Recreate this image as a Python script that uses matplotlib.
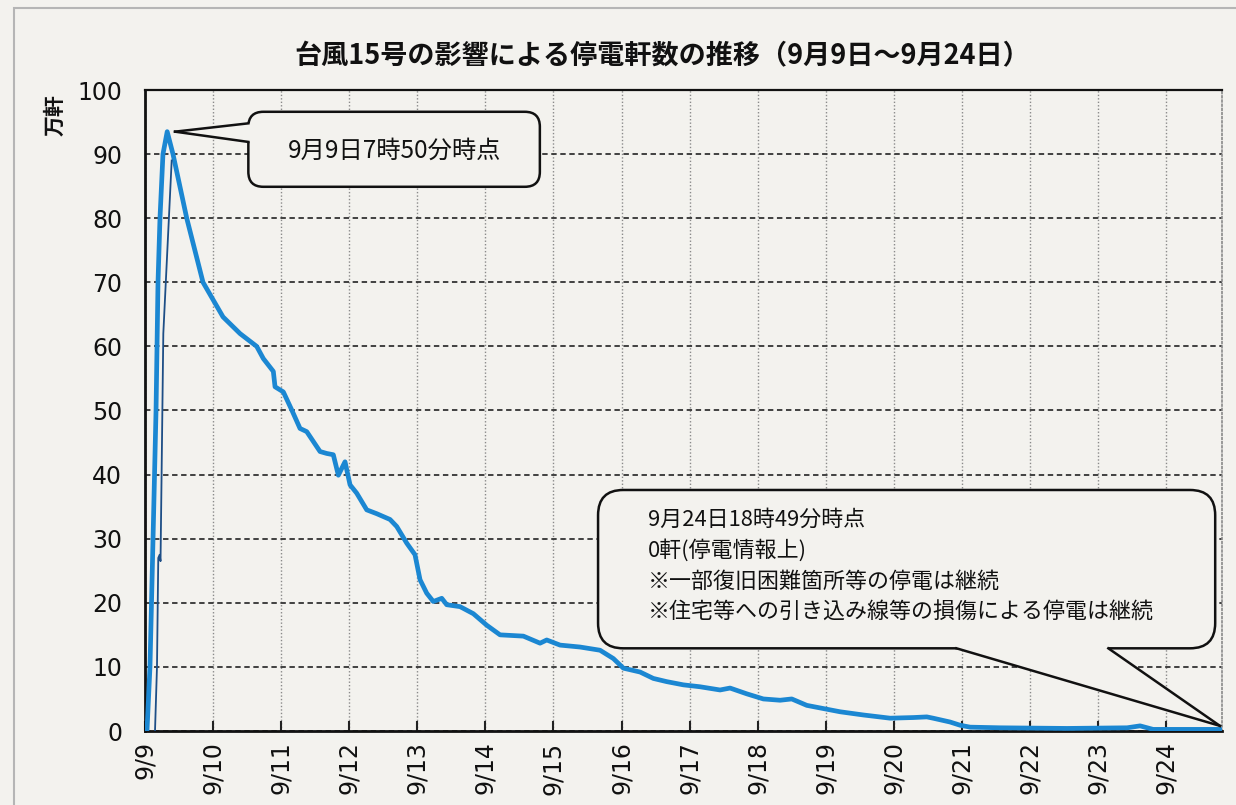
import matplotlib
matplotlib.use("Agg")
import matplotlib.pyplot as plt
from matplotlib.patches import FancyBboxPatch, Polygon, Rectangle
from matplotlib.lines import Line2D

plt.rcParams['font.family'] = ['Noto Sans CJK JP', 'DejaVu Sans']

# ---------------- data ----------------
# days elapsed since 9/9 00:00
days = [0.029, 0.073, 0.118, 0.162, 0.191, 0.220, 0.264, 0.326, 0.411, 0.613,
        0.852, 1.146, 1.396, 1.641, 1.738, 1.885, 1.910, 2.032, 2.155, 2.277,
        2.376, 2.571, 2.669, 2.766, 2.840, 2.938, 3.012, 3.110, 3.257, 3.404,
        3.599, 3.698, 3.845, 3.966, 4.040, 4.138, 4.235, 4.359, 4.432, 4.628,
        4.823, 5.020, 5.215, 5.558, 5.803, 5.901, 6.097, 6.390, 6.684, 6.880,
        7.027, 7.272, 7.467, 7.664, 7.908, 8.153, 8.447, 8.594, 8.839, 9.083,
        9.329, 9.500, 9.721, 9.965, 10.210, 10.552, 10.945, 11.287, 11.484, 11.576,
        11.826, 11.973, 12.120, 12.561, 13.545, 14.426, 14.617, 14.808, 15.800]
# outages (10,000 households)
outages = [0.0, 10.0, 30.0, 50.0, 70.0, 80.0, 90.0, 93.5, 90.0, 80.0,
           70.0, 64.6, 62.0, 60.0, 58.1, 56.1, 53.7, 52.9, 50.1, 47.2,
           46.7, 43.6, 43.3, 43.1, 39.9, 42.0, 38.4, 37.1, 34.5, 33.9,
           33.0, 31.9, 29.3, 27.5, 23.6, 21.5, 20.2, 20.7, 19.7, 19.4,
           18.3, 16.5, 15.0, 14.8, 13.7, 14.2, 13.4, 13.1, 12.6, 11.3,
           9.8, 9.2, 8.2, 7.7, 7.2, 6.9, 6.4, 6.7, 5.8, 5.0,
           4.8, 5.0, 4.0, 3.5, 3.0, 2.5, 2.0, 2.1, 2.2, 2.0,
           1.4, 0.9, 0.6, 0.5, 0.4, 0.5, 0.8, 0.25, 0.25]
# thin secondary trace near the start
thin_days = [0.147, 0.176, 0.195, 0.215, 0.228, 0.269, 0.392]
thin_vals = [0.0, 10.0, 27.0, 27.5, 26.5, 62.0, 89.0]

tick_labels = ["9/9", "9/10", "9/11", "9/12", "9/13", "9/14", "9/15", "9/16",
               "9/17", "9/18", "9/19", "9/20", "9/21", "9/22", "9/23", "9/24"]
y_ticks = [0, 10, 20, 30, 40, 50, 60, 70, 80, 90, 100]

title = "台風15号の影響による停電軒数の推移（9月9日～9月24日）"
ylabel = "万軒"
note1 = "9月9日7時50分時点"
note2_lines = ["9月24日18時49分時点", "0軒(停電情報上)",
               "※一部復旧困難箇所等の停電は継続",
               "※住宅等への引き込み線等の損傷による停電は継続"]

# ---------------- figure ----------------
BG = '#f3f2ee'
W, H = 1236, 805
fig = plt.figure(figsize=(W / 100, H / 100), dpi=100, facecolor=BG)
ax = fig.add_axes([145 / W, 1 - 731 / H, (1222 - 145) / W, (731 - 90) / H])
ax.set_facecolor(BG)

# outer frame
fig.patches.append(Rectangle((14 / W, -0.1), 1.2, (1 - 8 / H) + 0.1,
                             transform=fig.transFigure, fill=False,
                             edgecolor='#b5b5b5', lw=1.5))

ax.set_xlim(0, 15.82)
ax.set_ylim(0, 100)
ax.set_xticks(range(len(tick_labels)))
ax.set_xticklabels(tick_labels, rotation=90)
ax.set_yticks(y_ticks)
ax.set_yticklabels([str(v) for v in y_ticks])
ax.tick_params(axis='both', labelsize=17, labelfontfamily='DejaVu Sans',
               labelcolor='#111')
ax.tick_params(axis='x', direction='in', length=7, width=1.5, color='#222', pad=7.5)
ax.tick_params(axis='y', length=0, pad=16.5)

ax.yaxis.grid(True, linestyle=(0, (3, 2)), color='#333333', lw=1.3)
ax.xaxis.grid(True, linestyle=(0, (1, 1.5)), color='#8a8a8a', lw=1.0)
ax.set_axisbelow(True)

for s in ['left', 'bottom']:
    ax.spines[s].set_color('#111')
    ax.spines[s].set_linewidth(2.0)
ax.spines['top'].set_color('#111')
ax.spines['top'].set_linewidth(1.6)
ax.spines['right'].set_color('#8a8a8a')
ax.spines['right'].set_linestyle((0, (1, 1.5)))
ax.spines['right'].set_linewidth(1.2)

ax.plot(days, outages, color='#1b87d2', lw=3.4, solid_joinstyle='round',
        solid_capstyle='round', zorder=3)
ax.plot(thin_days, thin_vals, color='#1d4e86', lw=1.3, zorder=3)

fig.text(0.536, 1 - 56 / H, title, ha='center', va='center',
         fontsize=19.5, fontweight='bold', color='#111')
fig.text(55 / W, 1 - 115 / H, ylabel, rotation=90, ha='center', va='center',
         fontsize=15, fontweight='bold', color='#111')


def callout(x0, x1, y0, y1, rad, b1, tip, b2, inside):
    ar = (100 / 641) / (15.82 / 1077)
    box = FancyBboxPatch((x0, y0), x1 - x0, y1 - y0,
                         boxstyle=f"round,pad=0,rounding_size={rad}",
                         mutation_aspect=ar, facecolor=BG, edgecolor='#111',
                         lw=1.8, zorder=5, clip_on=False)
    ax.add_patch(box)
    poly = Polygon([inside[0], b1, tip, b2, inside[1]], closed=True,
                   facecolor=BG, edgecolor='none', zorder=6, clip_on=False)
    ax.add_patch(poly)
    for a in (b1, b2):
        ax.add_line(Line2D([a[0], tip[0]], [a[1], tip[1]], color='#111',
                           lw=1.8, zorder=7, clip_on=False))


# callout 1 (peak)
pk = outages.index(max(outages))
tip1 = (days[pk] + 0.115, outages[pk])
callout(1.518, 5.80, 84.9, 96.6, 0.22,
        (1.518, 94.8), tip1, (1.518, 91.9),
        [(1.60, 94.8), (1.60, 91.9)])
ax.text(3.67, 90.5, note1, ha='center', va='center', fontsize=17.5,
        color='#111', zorder=8)

# callout 2 (end)
tip2 = (days[-1] - 0.01, outages[-1] + 0.55)
callout(6.655, 15.72, 12.9, 37.6, 0.37,
        (11.92, 12.9), tip2, (14.15, 12.9),
        [(11.92, 13.6), (14.15, 13.6)])
for line, yv in zip(note2_lines, [32.9, 28.1, 23.3, 18.4]):
    ax.text(7.39, yv, line, ha='left', va='center', fontsize=15.8,
            color='#111', zorder=8)

fig.savefig("out.png", dpi=100, facecolor=BG)
